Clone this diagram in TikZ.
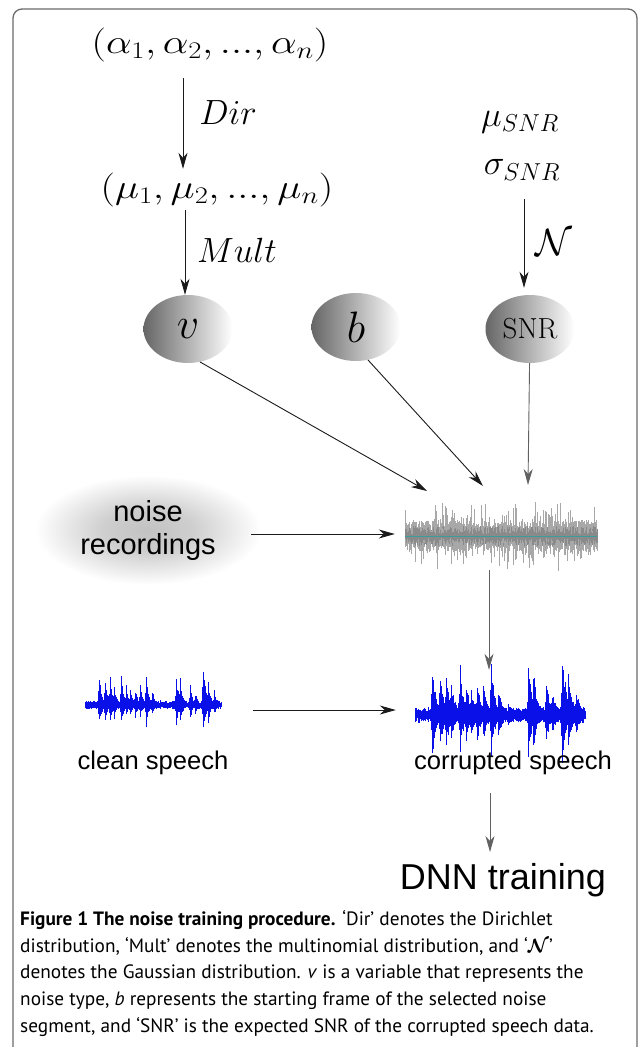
\RequirePackage{fix-cm}
\documentclass[tikz,border=0pt]{standalone}
\usepackage{amsmath}
\usepackage{bm}
\usepackage{graphicx}
\usepackage{fontspec}
\setsansfont{Liberation Sans}
\newfontfamily\capfont{PT Sans}
\usetikzlibrary{arrows.meta,positioning,shapes.geometric,calc}
\definecolor{ink}{HTML}{1A1A1A}
\definecolor{framegray}{HTML}{6A6A6A}
\definecolor{wavegray}{HTML}{A8A8A8}
\definecolor{wavecore}{HTML}{8A8A8A}
\definecolor{speechblue}{HTML}{0A10E8}
\definecolor{tealline}{HTML}{3C9C9C}
\pgfdeclareradialshading{noiseblur}{\pgfpointorigin}{color(0bp)=(black!24); color(10bp)=(black!19); color(25bp)=(white); color(50bp)=(white)}
\tikzset{
  flowarr/.style={-{Stealth[length=16pt,width=9pt,inset=5pt]},line width=0.9pt,color=ink},
  grayarr/.style={flowarr,color=black!62},
  varnode/.style={ellipse,left color=black!60,right color=white,
                  minimum width=89pt,minimum height=68pt,inner sep=0pt},
  mathlabel/.style={font=\fontsize{35}{40}\selectfont,inner sep=0pt},
  sanslabel/.style={font=\sffamily\fontsize{25.6}{34}\selectfont,inner sep=0pt,align=center},
  wavebox/.style={minimum width=#1,minimum height=60pt,inner sep=0pt}
}
% bursts of the speech signal: offset/amplitude
\newcommand{\speechbursts}{14/34,20/30,25/28,29/22,36/31,41/20,45/18,50/20,55/22,61/33,
  67/17,75/6,91/34,95/28,105/22,110/14,118/43,123/28,129/16}

\begin{document}
\begin{tikzpicture}[x=1pt,y=-1pt]
  \useasboundingbox (0,0) rectangle (639,1047);
  \begin{scope}
    \clip (0,0) rectangle (639,1047);
    \draw[framegray,line width=1.3pt,rounded corners=9pt] (13,9) rectangle (637,1080);
  \end{scope}
  \pgfmathsetseed{11}

  % prior chain
  \node[mathlabel,font=\fontsize{34}{40}\selectfont] (alpha) at (210,45) {\scalebox{1.2}[1]{$(\alpha_1,\alpha_2,...,\alpha_n)$}};
  \node[mathlabel,font=\fontsize{34}{40}\selectfont] (mu) at (217,190) {\scalebox{1.2}[1]{$(\mu_1,\mu_2,...,\mu_n)$}};
  \node[mathlabel] (dirlbl) at (228,113) {$Dir$};
  \node[mathlabel] (multlbl) at (237,250) {$Mult$};
  \node[mathlabel] (musnr) at (520,122) {$\mu_{SNR}$};
  \node[mathlabel] (sigsnr) at (522,170) {$\sigma_{SNR}$};
  \node[mathlabel,font=\fontsize{38}{40}\selectfont] (nlbl) at (554,243) {$\mathcal{N}$};

  \node[varnode] (v) at (188,329) {\fontsize{44}{48}\selectfont$v$};
  \node[varnode] (b) at (356,327) {\fontsize{44}{48}\selectfont$b$};
  \node[varnode] (snr) at (530,329) {\fontsize{29}{32}\selectfont$\mathrm{SNR}$};

  \draw[flowarr,shorten <=16pt,shorten >=4pt] ([xshift=-27pt]alpha.south) -- ([xshift=-34pt]mu.north);
  \draw[flowarr,shorten <=3pt] ([xshift=-32pt]mu.south) -- ([xshift=-3pt]v.north);
  \draw[flowarr,shorten <=19pt,shorten >=7pt] ([xshift=2pt]sigsnr.south) -- ([xshift=-6pt]snr.north);

  % noise
  \node[ellipse,shade,shading=noiseblur,minimum width=226pt,minimum height=110pt,
        sanslabel,font=\sffamily\fontsize{29}{33}\selectfont] (noiserec) at (148,530) {noise\\recordings};
  \node[wavebox=192pt,minimum height=72pt] (noisewav) at (501,534) {};
  \begin{scope}[shift={(501,536)}]
    \foreach \i in {0,...,384} {
      \pgfmathsetmacro\xx{-96+0.5*\i}
      \pgfmathsetmacro\up{5+10*rnd+20*rnd^6}
      \pgfmathsetmacro\dn{5+10*rnd+20*rnd^6}
      \pgfmathsetmacro\uu{2+8*rnd}
      \pgfmathsetmacro\dd{2+8*rnd}
      \draw[wavegray,line width=0.45pt] (\xx,\dn) -- (\xx,-\up);
      \draw[wavecore,line width=0.45pt] (\xx,\dd) -- (\xx,-\uu);
    }
    \draw[tealline,line width=0.7pt] (-96,0) -- (96,0);
  \end{scope}
  \coordinate (inv) at (427,491);
  \coordinate (inb) at (483,486);
  \coordinate (insnr) at (528,485);
  \draw[flowarr] (v.-70) -- (inv);
  \draw[flowarr] (b.-70) -- (inb);
  \draw[grayarr] (snr) -- (insnr);
  \draw[flowarr] ([xshift=-10pt,yshift=-4pt]noiserec.east) -- ([xshift=-10pt]noisewav.west);

  % speech
  \node[wavebox=136pt] (cleanwav) at (153,710) {};
  \node[wavebox=170pt] (corrwav) at (500,710) {};
  \begin{scope}[shift={(85,705)},speechblue,line width=0.7pt]
    \foreach \i in {0,...,272} {
      \pgfmathsetmacro\xx{0.5*\i}
      \draw (\xx,1.5+2.5*rnd) -- (\xx,-1.5-2.5*rnd);
    }
    \foreach \c/\a in \speechbursts {
      \foreach \j in {-3,...,14} {
        \pgfmathsetmacro\xx{\c+0.5*\j}
        \pgfmathsetmacro\ee{\a*exp(-abs(\j)/ifthenelse(\j<0,1.2,5))}
        \pgfmathsetmacro\up{\ee*(0.6+0.4*rnd)}
        \pgfmathsetmacro\dn{0.68*\ee*(0.6+0.4*rnd)}
        \draw (\xx,\dn) -- (\xx,-\up);
      }
    }
  \end{scope}
  \begin{scope}[shift={(415,715)},xscale=1.25,yscale=1.55,speechblue,line width=0.8pt]
    \foreach \i in {0,...,272} {
      \pgfmathsetmacro\xx{0.5*\i}
      \draw (\xx,2+3*rnd) -- (\xx,-2-3*rnd);
    }
    \foreach \c/\a in \speechbursts {
      \foreach \j in {-3,...,14} {
        \pgfmathsetmacro\xx{\c+0.5*\j}
        \pgfmathsetmacro\ee{\a*exp(-abs(\j)/ifthenelse(\j<0,1.2,5))}
        \pgfmathsetmacro\up{\ee*(0.65+0.35*rnd)+2}
        \pgfmathsetmacro\dn{0.75*\ee*(0.6+0.4*rnd)+2}
        \draw (\xx,\dn) -- (\xx,-\up);
      }
    }
  \end{scope}
  \node[sanslabel] (cleantxt) at (153,763) {clean speech};
  \node[sanslabel] (corrtxt) at (513,763) {corrupted speech};
  \node[sanslabel,font=\sffamily\fontsize{36}{40}\selectfont] (dnn) at (503,880) {DNN training};

  \draw[flowarr,shorten <=32pt,shorten >=19pt] (cleanwav.east) -- (corrwav.west);
  \draw[grayarr,shorten >=10pt] ([xshift=-12pt]noisewav.south) -- ([xshift=-11pt]corrwav.north);
  \draw[grayarr,shorten <=18pt,shorten >=11pt] ([xshift=-23pt]corrtxt.south) -- ([xshift=-13pt]dnn.north);

  % caption
  \node[anchor=north west,inner sep=0pt,align=left,font=\capfont\fontsize{19.3}{26.8}\selectfont] (caption) at (20,910)
    {\textbf{Figure 1 The noise training procedure.} ‘Dir’ denotes the Dirichlet\\
     distribution, ‘Mult’ denotes the multinomial distribution, and ‘$\bm{\mathcal{N}}$’\\
     denotes the Gaussian distribution. \textit{v} is a variable that represents the\\
     noise type, \textit{b} represents the starting frame of the selected noise\\
     segment, and ‘SNR’ is the expected SNR of the corrupted speech data.};
\end{tikzpicture}
\end{document}
